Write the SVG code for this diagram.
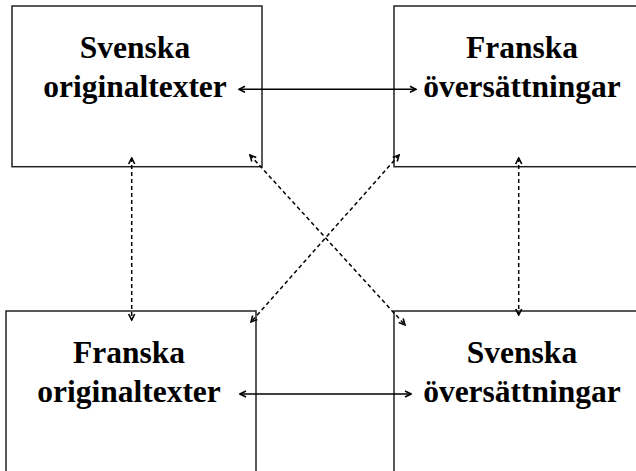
<svg xmlns="http://www.w3.org/2000/svg" width="636" height="471" viewBox="0 0 636 471">
<style>
.box{fill:#fff;stroke:#222;stroke-width:1.5}
.t{font-family:"Liberation Serif","Times New Roman",serif;font-weight:bold;font-size:31.5px;fill:#000;text-anchor:middle}
.c{fill:none;stroke:#000;stroke-width:1.5}
.d{stroke-dasharray:4,3}
</style>
<defs>
<marker id="ah" viewBox="0 0 8 8" refX="7" refY="4" markerWidth="8" markerHeight="8" markerUnits="userSpaceOnUse" orient="auto-start-reverse">
<path d="M1,1 L7,4 L1,7" fill="none" stroke="#000" stroke-width="1.6"/>
</marker>
</defs>
<g id="n1"><rect class="box" x="12" y="6" width="250" height="160.7"/>
<text class="t" x="135" y="57.5">Svenska</text><text class="t" x="135" y="97">originaltexter</text></g>
<g id="n2"><rect class="box" x="394" y="6" width="260" height="160.7"/>
<text class="t" x="522" y="57.5">Franska</text><text class="t" x="522" y="97">översättningar</text></g>
<g id="n3"><rect class="box" x="6" y="311" width="250" height="180"/>
<text class="t" x="129" y="363">Franska</text><text class="t" x="129" y="402">originaltexter</text></g>
<g id="n4"><rect class="box" x="394" y="311" width="260" height="180"/>
<text class="t" x="522" y="363">Svenska</text><text class="t" x="522" y="402">översättningar</text></g>
<g id="connectors">
<line class="c" x1="239" y1="89.3" x2="416" y2="89.3" marker-start="url(#ah)" marker-end="url(#ah)"/>
<line class="c" x1="240" y1="394" x2="411" y2="394" marker-start="url(#ah)" marker-end="url(#ah)"/>
<line class="c d" x1="131.7" y1="158" x2="131.7" y2="320" marker-start="url(#ah)" marker-end="url(#ah)"/>
<line class="c d" x1="518.7" y1="158" x2="518.7" y2="315" marker-start="url(#ah)" marker-end="url(#ah)"/>
<line class="c d" x1="250" y1="155" x2="405" y2="325" marker-start="url(#ah)" marker-end="url(#ah)"/>
<line class="c d" x1="399" y1="155" x2="251" y2="322" marker-start="url(#ah)" marker-end="url(#ah)"/>
</g>
</svg>
